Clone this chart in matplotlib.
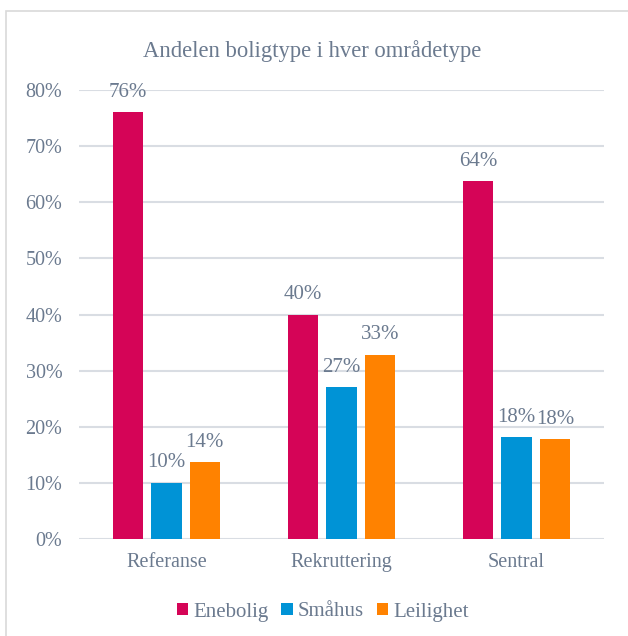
import numpy as np
from matplotlib import pyplot as plt
from matplotlib.patches import Rectangle

#%%# data #%%#
categories = ['Referanse', 'Rekruttering', 'Sentral']
series = ['Enebolig', 'Småhus', 'Leilighet']
enebolig = [76.0, 40.0, 63.8]
smahus = [10.0, 27.0, 18.1]
leilighet = [13.7, 32.8, 17.8]
yticks = [0, 10, 20, 30, 40, 50, 60, 70, 80]

colors = ['#D50457', '#0093D6', '#FF8200']
textColor = '#6B7A8F'
gridColor = '#D9DDE3'

plt.rcParams['font.family'] = ['Liberation Serif', 'DejaVu Serif']

#%%# plot #%%#
fig = plt.figure(figsize=(6.28, 6.36), dpi=100)
ax = fig.add_axes([79/628, 97/636, (604-79)/628, (546-97)/636])

# chart frame
fig.patches.append(Rectangle((6/628, -0.1), 1.2, 1 - 11/636 + 0.1, transform=fig.transFigure,
                             fill=False, edgecolor='#D9D9D9', linewidth=1.2))

x = np.arange(len(categories))
width = 0.174
step = 0.219
for i, (name, vals) in enumerate(zip(series, [enebolig, smahus, leilighet])):
    pos = x + (i - 1) * step
    ax.bar(pos, vals, width, color=colors[i], label=name, zorder=3)
    for p, v in zip(pos, vals):
        ax.annotate(f'{v:.0f}%', (p, v), xytext=(0, 7.5), textcoords='offset points',
                    ha='center', va='bottom', fontsize=15, color=textColor)

ax.set_xlim(-0.5, 2.5)
ax.set_ylim(0, 80)
ax.set_yticks(yticks)
ax.set_yticklabels([f'{t}%' for t in yticks])
ax.set_xticks(x)
ax.set_xticklabels(categories)
ax.tick_params(axis='both', length=0, labelsize=14.5, labelcolor=textColor)
ax.tick_params(axis='y', pad=12)
ax.tick_params(axis='x', pad=10)
ax.grid(axis='y', color=gridColor, linewidth=1.5, zorder=0)
for s in ax.spines.values():
    s.set_visible(False)

fig.text(0.497, 1 - 51/636, 'Andelen boligtype i hver områdetype', ha='center', va='center',
         fontsize=16.3, color=textColor)

fig.legend(loc='center', bbox_to_anchor=(0.514, 1 - 612/636), ncol=3, frameon=False,
           fontsize=15, labelcolor=textColor, handlelength=0.55, handleheight=0.55,
           handletextpad=0.25, columnspacing=0.6)

plt.savefig('out.png')
